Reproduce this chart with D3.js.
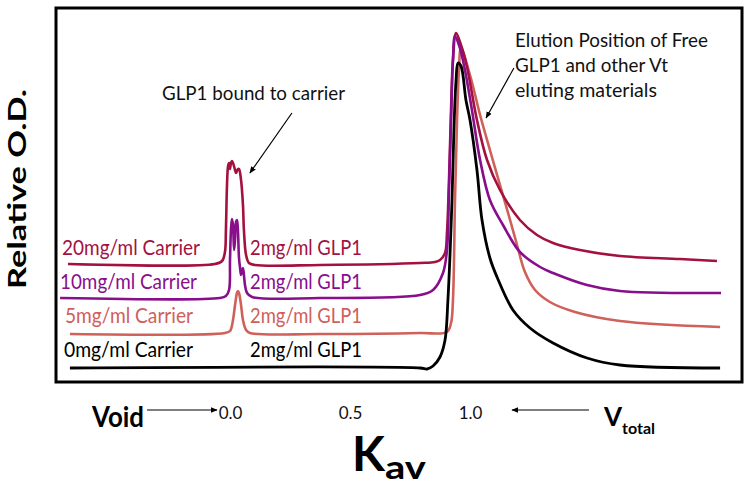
<!DOCTYPE html>
<html>
<head>
<meta charset="utf-8">
<script src="https://cdn.jsdelivr.net/npm/d3@7"></script>
<style>
  html, body { margin: 0; padding: 0; background: #fff; }
  svg { display: block; font-family: Lato, "Open Sans", sans-serif; }
</style>
</head>
<body>
<svg id="chart" width="751" height="490"></svg>
<script>
// ---- Data (x = Kav, y = relative O.D.) ----
const seriesNames = ["20mg/ml Carrier", "10mg/ml Carrier", "5mg/ml Carrier", "0mg/ml Carrier"];
const glpLabel = "2mg/ml GLP1";
const tickValues = [0, 0.5, 1.0];

const carrier20 = [
  [-0.675,27.0],[-0.063,27.0],[-0.033,27.75],[-0.021,30.0],[-0.017,35.5],[-0.0125,46.75],[-0.008,51.5],
  [-0.004,52.25],[0,50.75],[0.004,52.25],[0.008,52.75],[0.0125,52.25],[0.021,50.5],[0.025,49.75],
  [0.033,50.75],[0.0375,50.75],[0.046,48.0],[0.054,41.75],[0.058,35.5],[0.067,29.25],[0.079,27.25],
  [0.104,26.75],[0.375,26.75],[0.792,27.25],[0.854,27.5],[0.875,28.0],[0.896,29.75],[0.904,34.75],
  [0.9125,48.0],[0.921,65.5],[0.929,78.0],[0.942,84.75],[0.9625,81.75],[0.9875,76.25],[1.029,63.0],
  [1.071,53.0],[1.125,45.5],[1.208,38.0],[1.279,34.25],[1.346,32.25],[1.458,30.5],[1.625,29.0],
  [1.875,28.25],[2.029,27.75]
];
const carrier10 = [
  [-0.708,18.5],[-0.042,18.5],[-0.017,19.0],[-0.004,20.5],[0,28.0],[0.004,35.5],[0.008,38.25],
  [0.0125,36.75],[0.017,30.5],[0.021,33.0],[0.025,37.5],[0.029,38.0],[0.033,35.5],[0.0375,28.5],
  [0.042,26.0],[0.046,24.25],[0.05,25.25],[0.054,26.0],[0.058,24.25],[0.0625,21.75],[0.071,19.75],
  [0.092,18.75],[0.375,18.5],[0.792,19.25],[0.846,20.5],[0.8875,24.75],[0.904,30.5],[0.9125,45.5],
  [0.921,63.0],[0.929,78.0],[0.9375,84.0],[0.958,81.0],[0.979,75.5],[1.008,65.5],[1.042,53.0],
  [1.083,43.0],[1.1375,36.75],[1.208,30.0],[1.292,26.25],[1.346,24.75],[1.4875,21.75],[1.625,20.25],
  [2.046,19.75]
];
const carrier5 = [
  [-0.667,9.5],[-0.021,9.75],[0,10.25],[0.0125,13.0],[0.021,16.75],[0.029,19.75],[0.033,20.25],
  [0.0375,19.75],[0.046,16.75],[0.054,13.0],[0.067,10.5],[0.083,9.75],[0.375,9.5],[0.792,9.75],
  [0.904,10.0],[0.921,12.25],[0.929,18.0],[0.9375,43.0],[0.946,63.0],[0.954,75.5],[0.9625,81.0],
  [1.0,74.25],[1.042,64.25],[1.083,55.5],[1.125,46.75],[1.167,38.0],[1.196,31.75],[1.229,25.0],
  [1.271,20.5],[1.333,17.5],[1.4375,15.0],[1.625,12.75],[2.042,11.25]
];
const carrier0 = [
  [-0.667,1.0],[0.792,1.0],[0.821,0.75],[0.846,1.5],[0.875,3.75],[0.896,8.0],[0.908,18.0],
  [0.925,43.0],[0.933,60.5],[0.942,73.0],[0.95,77.25],[0.9625,76.5],[0.983,68.0],[1.0,63.0],
  [1.029,50.5],[1.05,38.0],[1.083,28.5],[1.1125,23.75],[1.179,15.5],[1.25,11.0],[1.346,7.25],
  [1.4875,3.5],[1.625,1.75],[2.042,1.0]
];

// annotation arrows in data units [from, to]
const boundArrow = [[0.258, 64.75], [0.083, 49.75]];
const freeArrow = [[1.183, 76.0], [1.067, 63.5]];

// ---- Layout / style ----
const colors = ["#A3123F", "#880E8C", "#D0605A", "#000000"];
const series = [carrier20, carrier10, carrier5, carrier0];
const labelLayout = [
  {x: 62, y: 255, w: 138}, {x: 60, y: 289, w: 137}, {x: 65, y: 323, w: 128}, {x: 64, y: 357, w: 129}
];
const glpLayout = {x: 250, w: 112};

const svg = d3.select("#chart");
const x = d3.scaleLinear().domain([0, 1]).range([230, 470]);
const y = d3.scaleLinear().domain([0, 90]).range([372, 12]);

// defs: arrow marker
const defs = svg.append("defs");
defs.append("marker").attr("id", "ah").attr("viewBox", "0 0 10 10")
  .attr("refX", 9).attr("refY", 5).attr("markerWidth", 7).attr("markerHeight", 7)
  .attr("markerUnits", "userSpaceOnUse").attr("orient", "auto")
  .append("path").attr("d", "M0,1 L10,5 L0,9 Z").attr("fill", "#000");

// frame
svg.append("rect").attr("x", 56).attr("y", 8).attr("width", 686).attr("height", 374)
  .attr("fill", "none").attr("stroke", "#000").attr("stroke-width", 3);

// curves
const line = d3.line().x(d => x(d[0])).y(d => y(d[1])).curve(d3.curveCatmullRom.alpha(0.5));
const drawOrder = [2, 0, 1, 3];
drawOrder.forEach(i => {
  svg.append("path").datum(series[i]).attr("d", line)
    .attr("fill", "none").attr("stroke", colors[i])
    .attr("stroke-width", i === 3 ? 2.8 : 2.6)
    .attr("stroke-linejoin", "round").attr("stroke-linecap", "butt");
});

// series labels
seriesNames.forEach((name, i) => {
  const L = labelLayout[i];
  svg.append("text").attr("x", L.x).attr("y", L.y).text(name)
    .attr("fill", colors[i]).attr("font-size", 20.5)
    .attr("textLength", L.w).attr("lengthAdjust", "spacingAndGlyphs");
  svg.append("text").attr("x", glpLayout.x).attr("y", L.y).text(glpLabel)
    .attr("fill", colors[i]).attr("font-size", 20.5)
    .attr("textLength", glpLayout.w).attr("lengthAdjust", "spacingAndGlyphs");
});

// annotations
svg.append("text").attr("x", 162).attr("y", 100).text("GLP1 bound to carrier")
  .attr("font-size", 19).attr("fill", "#111")
  .attr("textLength", 183).attr("lengthAdjust", "spacingAndGlyphs");
svg.append("line")
  .attr("x1", x(boundArrow[0][0])).attr("y1", y(boundArrow[0][1]))
  .attr("x2", x(boundArrow[1][0])).attr("y2", y(boundArrow[1][1]))
  .attr("stroke", "#000").attr("stroke-width", 1.2).attr("marker-end", "url(#ah)");

const freeLines = ["Elution Position of Free", "GLP1 and other Vt", "eluting materials"];
const freeW = [193, 153, 142];
freeLines.forEach((t, i) => {
  svg.append("text").attr("x", 515).attr("y", 47 + i * 25).text(t)
    .attr("font-size", 19).attr("fill", "#111")
    .attr("textLength", freeW[i]).attr("lengthAdjust", "spacingAndGlyphs");
});
svg.append("line")
  .attr("x1", x(freeArrow[0][0])).attr("y1", y(freeArrow[0][1]))
  .attr("x2", x(freeArrow[1][0])).attr("y2", y(freeArrow[1][1]))
  .attr("stroke", "#000").attr("stroke-width", 1.2).attr("marker-end", "url(#ah)");

// x axis ticks (labels only)
const xAxis = d3.axisBottom(x).tickValues(tickValues).tickSize(0).tickPadding(0)
  .tickFormat(d3.format(".1f"));
const gx = svg.append("g").attr("transform", "translate(0,407)").call(xAxis);
gx.select(".domain").remove();
gx.selectAll("text").attr("font-size", 17).attr("font-family", "Lato, sans-serif").attr("fill", "#111");

// Void and arrow
svg.append("text").attr("x", 92).attr("y", 427).text("Void")
  .attr("font-size", 28).attr("font-weight", "bold")
  .attr("textLength", 52).attr("lengthAdjust", "spacingAndGlyphs");
svg.append("line").attr("x1", 147).attr("y1", 410).attr("x2", 217).attr("y2", 410)
  .attr("stroke", "#000").attr("stroke-width", 1).attr("marker-end", "url(#ah)");

// V total and arrow
svg.append("line").attr("x1", 589).attr("y1", 410).attr("x2", 512).attr("y2", 410)
  .attr("stroke", "#000").attr("stroke-width", 1).attr("marker-end", "url(#ah)");
const vt = svg.append("text").attr("x", 604).attr("y", 426).attr("font-weight", "bold");
vt.append("tspan").text("V").attr("font-size", 26);
vt.append("tspan").text("total").attr("font-size", 16).attr("dy", 8);

// K av axis title
const kav = svg.append("text").attr("x", 352).attr("y", 471).attr("font-weight", "bold");
kav.append("tspan").text("K").attr("font-size", 48);
kav.append("tspan").text("av").attr("font-size", 32).attr("dy", 8)
  .attr("textLength", 41).attr("lengthAdjust", "spacingAndGlyphs");

// Y axis title
svg.append("text").attr("transform", "translate(26,189) rotate(-90)")
  .attr("text-anchor", "middle").text("Relative O.D.")
  .attr("font-size", 24).attr("font-weight", "bold")
  .attr("textLength", 200).attr("lengthAdjust", "spacingAndGlyphs");
</script>
</body>
</html>
